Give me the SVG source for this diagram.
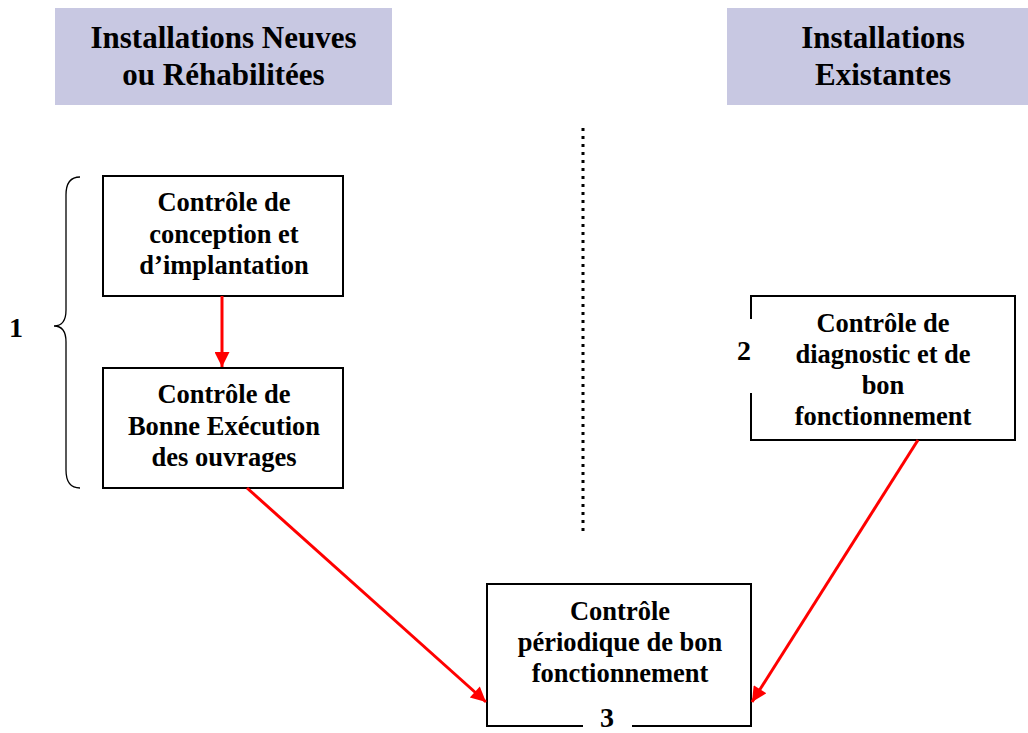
<svg xmlns="http://www.w3.org/2000/svg" width="1028" height="733" viewBox="0 0 1028 733">
<style>
.hdr{fill:#c8c8e2}
.ht{font-family:"Liberation Serif","Times New Roman",serif;font-weight:bold;font-size:31px;fill:#000;text-anchor:middle}
.bt{font-family:"Liberation Serif","Times New Roman",serif;font-weight:bold;font-size:26.5px;fill:#000;text-anchor:middle}
.num{font-family:"Liberation Serif","Times New Roman",serif;font-weight:bold;font-size:28px;fill:#000}
.box{fill:#fff;stroke:#000;stroke-width:2}
.edge{fill:none;stroke:#000;stroke-width:2}
.arr{stroke:#ff0000;stroke-width:3;fill:none;marker-end:url(#ah)}
</style>
<defs>
<marker id="ah" viewBox="0 0 10 10" refX="10" refY="5" markerWidth="17" markerHeight="15" orient="auto" markerUnits="userSpaceOnUse">
<path d="M0,0 L10,5 L0,10 Z" fill="#ff0000"/>
</marker>
</defs>
<rect width="1028" height="733" fill="#fff"/>
<g id="header-left">
<rect class="hdr" x="55" y="8" width="337" height="97"/>
<text class="ht" x="223.5" y="48">Installations Neuves</text>
<text class="ht" x="223.5" y="85">ou Réhabilitées</text>
</g>
<g id="header-right">
<rect class="hdr" x="727" y="8" width="301" height="97"/>
<text class="ht" x="883" y="48">Installations</text>
<text class="ht" x="883" y="85">Existantes</text>
</g>
<g id="divider">
<line x1="583" y1="128" x2="583" y2="533" stroke="#000" stroke-width="3" stroke-dasharray="3 5"/>
</g>
<g id="group1">
<path d="M80,177 Q66,177 66,195 L66,310 Q66,326 54,326 Q66,326 66,342 L66,470 Q66,488 80,488" fill="none" stroke="#000" stroke-width="1.3"/>
<text class="num" x="9" y="337">1</text>
</g>
<g id="node-conception">
<rect class="box" x="103" y="176" width="240" height="120"/>
<text class="bt" x="224" y="211">Contrôle de</text>
<text class="bt" x="224" y="243">conception et</text>
<text class="bt" x="224" y="274">d’implantation</text>
</g>
<g id="node-execution">
<rect class="box" x="103" y="368" width="240" height="120"/>
<text class="bt" x="224" y="403">Contrôle de</text>
<text class="bt" x="224" y="435">Bonne Exécution</text>
<text class="bt" x="224" y="466">des ouvrages</text>
</g>
<g id="node-diagnostic">
<rect x="751" y="296" width="264" height="144" fill="#fff"/>
<path class="edge" d="M751,319 L751,296 L1015,296 L1015,440 L751,440 L751,393"/>
<text class="num" x="737" y="360">2</text>
<text class="bt" x="883" y="332">Contrôle de</text>
<text class="bt" x="883" y="363">diagnostic et de</text>
<text class="bt" x="883" y="394">bon</text>
<text class="bt" x="883" y="425">fonctionnement</text>
</g>
<g id="node-periodique">
<rect x="487" y="584" width="264" height="142" fill="#fff"/>
<path class="edge" d="M583,726 L487,726 L487,584 L751,584 L751,726 L632,726"/>
<text class="bt" x="620" y="620">Contrôle</text>
<text class="bt" x="620" y="651">périodique de bon</text>
<text class="bt" x="620" y="682">fonctionnement</text>
<text class="num" x="607" y="727" text-anchor="middle">3</text>
</g>
<g id="connectors">
<line class="arr" x1="222" y1="296" x2="222" y2="367"/>
<line class="arr" x1="247" y1="488" x2="486" y2="702"/>
<line class="arr" x1="918" y1="440" x2="752" y2="702"/>
</g>
</svg>
